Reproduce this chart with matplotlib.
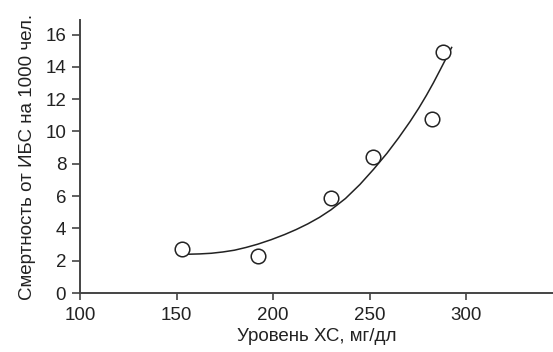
import matplotlib
matplotlib.use("Agg")
import matplotlib.pyplot as plt

# Data
chol = [153, 192, 230, 252, 282.5, 288]
mortality = [2.7, 2.3, 5.9, 8.4, 10.8, 14.9]

# trend curve as drawn in the source
curve_x = [156, 162, 168, 174, 180, 186, 192, 199, 206, 212, 218, 224, 230, 237.5, 245,
           252, 259, 265, 271, 275.5, 279.5, 283, 286.5, 289, 291, 292.5]
curve_y = [2.4, 2.42, 2.46, 2.54, 2.65, 2.82, 3.02, 3.3, 3.62, 3.93, 4.28, 4.68, 5.15, 5.85, 6.72,
           7.65, 8.65, 9.6, 10.62, 11.45, 12.25, 13.0, 13.8, 14.38, 14.85, 15.2]

xticks = [100, 150, 200, 250, 300]
yticks = [0, 2, 4, 6, 8, 10, 12, 14, 16]

plt.rcParams['font.family'] = ['Liberation Sans', 'DejaVu Sans']

fig = plt.figure(figsize=(5.53, 3.52), dpi=100)
ax = fig.add_axes([0.1447, 0.1676, 0.8553, 0.7756])

ax.plot(curve_x, curve_y, color='#222222', lw=1.1, zorder=2)
ax.plot(chol, mortality, 'o', ms=10.5, mfc='white', mec='#222222', mew=1.1, zorder=3)

ax.set_xlim(100, 345)
ax.set_ylim(0, 16.9)
ax.set_xticks(xticks)
ax.set_yticks(yticks)

for side in ['top', 'right']:
    ax.spines[side].set_visible(False)
for side in ['left', 'bottom']:
    ax.spines[side].set_color('#444444')
    ax.spines[side].set_linewidth(1.4)

ax.tick_params(axis='both', colors='#444444', labelcolor='#222222', labelsize=13.5, width=1.2)
ax.tick_params(axis='y', length=6, pad=4)
ax.tick_params(axis='x', length=5, pad=5)

ax.set_xlabel('Уровень ХС, мг/дл', fontsize=13.5, color='#222222', labelpad=3)
ax.set_ylabel('Смертность от ИБС на 1000 чел.', fontsize=13.5, color='#222222', labelpad=7)

plt.savefig('out.png', dpi=100)
